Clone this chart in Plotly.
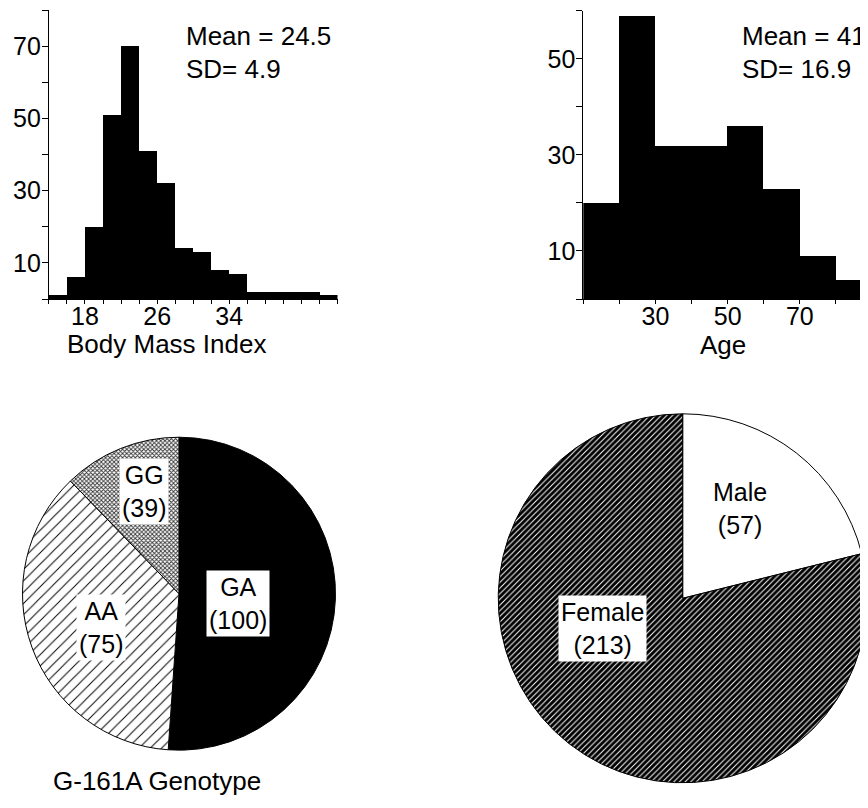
import plotly.graph_objects as go

# ---------------- data ----------------
bmi_bin_start = [14, 16, 18, 20, 22, 24, 26, 28, 30, 32, 34, 36, 38, 40, 42, 44]
bmi_counts    = [1, 6, 20, 51, 70, 41, 32, 14, 13, 8, 7, 2, 2, 2, 2, 1]
bmi_bin_width = 2
bmi_tick_labels = ["18", "26", "34"]

age_bin_start = [10, 20, 30, 40, 50, 60, 70, 80]
age_counts    = [20, 59, 32, 32, 36, 23, 9, 4]
age_bin_width = 10
age_tick_labels = ["30", "50", "70"]

genotype_labels = ["GA", "AA", "GG"]
genotype_counts = [100, 75, 39]
genotype_share_pct = [51.1, 36.7, 12.2]   # slice sizes as drawn

sex_labels = ["Male", "Female"]
sex_counts = [57, 213]

# page body has an 8px margin: lay out in window pixels, convert to figure paper
OFF = 8
W, H = 868 - OFF, 808 - OFF
FONT = "Liberation Sans, Arial, sans-serif"

def px(xp):
    return (xp - OFF) / W

def py(yp):
    return 1 - (yp - OFF) / H

fig = go.Figure()

# ---------------- histograms ----------------
fig.add_trace(go.Bar(x=bmi_bin_start, y=bmi_counts, width=bmi_bin_width, offset=0,
                     marker=dict(color="black", line=dict(width=0)),
                     xaxis="x", yaxis="y", showlegend=False))
fig.add_trace(go.Bar(x=age_bin_start, y=age_counts, width=age_bin_width, offset=0,
                     marker=dict(color="black", line=dict(width=0)),
                     xaxis="x2", yaxis="y2", showlegend=False))

# ---------------- pies ----------------
fig.add_trace(go.Pie(
    labels=genotype_labels, values=genotype_share_pct, sort=False,
    direction="clockwise", rotation=0, textinfo="none", hoverinfo="label",
    marker=dict(colors=["black", "white", "white"],
                line=dict(color="black", width=1),
                pattern=dict(shape=["", "/", "x"],
                             fgcolor=["black", "black", "#333333"],
                             bgcolor=["black", "white", "white"],
                             size=[8, 8, 3], solidity=[0.5, 0.12, 0.5])),
    domain=dict(x=[px(22.5), px(335.5)], y=[py(750.2), py(437.2)]),
    showlegend=False))

fig.add_trace(go.Pie(
    labels=sex_labels, values=sex_counts, sort=False,
    direction="clockwise", rotation=0, textinfo="none", hoverinfo="label",
    marker=dict(colors=["white", "white"],
                line=dict(color="black", width=1),
                pattern=dict(shape=["", "/"],
                             fgcolor=["white", "black"],
                             bgcolor=["white", "white"],
                             size=[4, 4], solidity=[0.5, 0.75])),
    domain=dict(x=[px(498.2), px(867.2)], y=[py(782.8), py(413.8)]),
    showlegend=False))

axis_common = dict(showgrid=False, zeroline=False, showline=True, linecolor="black",
                   linewidth=1, ticks="outside", tickcolor="black", tickwidth=1,
                   tickfont=dict(family=FONT, size=25, color="black"), fixedrange=True)

bmi_tickvals = list(range(14, 47, 2))
bmi_ticktext = [str(v) if str(v) in bmi_tick_labels else "" for v in bmi_tickvals]
age_tickvals = list(range(10, 90, 10))
age_ticktext = [str(v) if str(v) in age_tick_labels else "" for v in age_tickvals]

fig.update_layout(
    width=W, height=H, autosize=False,
    margin=dict(l=0, r=0, t=0, b=0, pad=0),
    paper_bgcolor="white", plot_bgcolor="white",
    bargap=0,
    font=dict(family=FONT, color="black"),
    xaxis=dict(axis_common, domain=[px(48.9), px(337.5)], range=[14, 46],
               tickmode="array", tickvals=bmi_tickvals, ticktext=bmi_ticktext,
               ticklen=4, ticklabelstandoff=-9, anchor="y"),
    yaxis=dict(axis_common, domain=[py(299), py(10)], range=[0, 80],
               tickmode="array", tickvals=list(range(0, 81, 10)),
               ticktext=["" if v % 20 == 0 else str(v) for v in range(0, 81, 10)],
               ticklen=6, ticklabelstandoff=-4, anchor="x"),
    xaxis2=dict(axis_common, domain=[px(583.3), 1.0], range=[10, 88.9],
                tickmode="array", tickvals=age_tickvals, ticktext=age_ticktext,
                ticklen=4, ticklabelstandoff=-9, anchor="y2"),
    yaxis2=dict(axis_common, domain=[py(299), py(10.7)], range=[0, 60],
                tickmode="array", tickvals=list(range(0, 61, 10)),
                ticktext=["" if v % 20 == 0 else str(v) for v in range(0, 61, 10)],
                ticklen=6, ticklabelstandoff=-4, anchor="x2"),
)

def note(text, x, y, size=26, xanchor="left", bg=None, yanchor="middle"):
    fig.add_annotation(text=text, x=px(x), y=py(y), xref="paper", yref="paper",
                       xanchor=xanchor, yanchor=yanchor, showarrow=False,
                       font=dict(family=FONT, size=size, color="black"),
                       bgcolor=bg if bg else "rgba(0,0,0,0)", borderpad=2)

# stats
note("Mean = 24.5", 183, 36)
note("SD= 4.9", 183, 69)
note("Mean = 41", 739, 36)
note("SD= 16.9", 739, 69)

# axis titles
note("Body Mass Index", 166, 344, xanchor="center")
note("Age", 723, 345, xanchor="center")
note("G-161A Genotype", 157, 781, xanchor="center")

# pie labels
note(f"{genotype_labels[2]}<br>({genotype_counts[2]})", 143.5, 491, size=25, xanchor="center", bg="white")
note(f"{genotype_labels[0]}<br>({genotype_counts[0]})", 237.5, 603, size=25, xanchor="center", bg="white")
note(f"{genotype_labels[1]}<br>({genotype_counts[1]})", 101, 627, size=25, xanchor="center", bg="white")
note(f"{sex_labels[0]}<br>({sex_counts[0]})", 740, 508, size=25, xanchor="center", bg="white")
note(f"{sex_labels[1]}<br>({sex_counts[1]})", 602.5, 628, size=25, xanchor="center", bg="white")

fig.write_html("out.html")
